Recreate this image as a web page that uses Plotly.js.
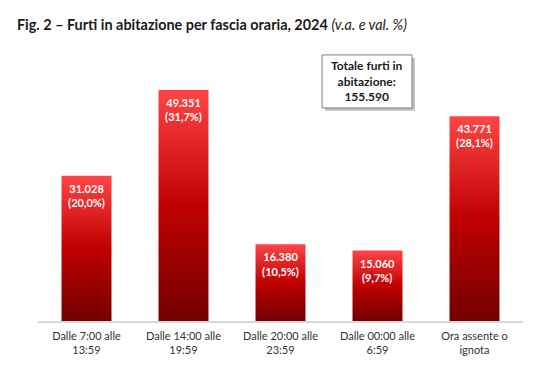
<!DOCTYPE html>
<html>
<head>
<meta charset="utf-8">
<script src="https://cdn.plot.ly/plotly-3.0.1.min.js"></script>
<style>
html,body{margin:0;padding:0;background:#fff;}
#chart{width:548px;height:384px;}
</style>
</head>
<body>
<div id="chart"></div>
<script>
const categories = ["Dalle 7:00 alle<br>13:59", "Dalle 14:00 alle<br>19:59", "Dalle 20:00 alle<br>23:59", "Dalle 00:00 alle<br>6:59", "Ora assente o<br>ignota"];
const values = [31028, 49351, 16380, 15060, 43771];
const valueLabels = ["31.028", "49.351", "16.380", "15.060", "43.771"];
const percentLabels = ["20,0%", "31,7%", "10,5%", "9,7%", "28,1%"];
const totalLabel = "155.590";

const FONT = "Lato, 'Open Sans', sans-serif";
const texts = valueLabels.map((v, i) => v + "<br>(" + percentLabels[i] + ")");

const trace = {
  type: "bar",
  x: categories,
  y: values,
  text: texts,
  textposition: "inside",
  insidetextanchor: "end",
  textangle: 0,
  textfont: {family: FONT, size: 11, color: "#ffffff", weight: "bold"},
  marker: {color: "#c00000", line: {width: 0}},
  hoverinfo: "none",
  cliponaxis: false
};

const layout = {
  width: 548,
  height: 384,
  margin: {l: 38, r: 25, t: 80, b: 63},
  paper_bgcolor: "#ffffff",
  plot_bgcolor: "#ffffff",
  bargap: 0.485,
  showlegend: false,
  uniformtext: {mode: "show", minsize: 11},
  title: {
    text: "<b>Fig. 2 – Furti in abitazione per fascia oraria, 2024</b> <i>(v.a. e val. %)</i>",
    font: {family: FONT, size: 14.4, color: "#1a1a1a"},
    x: 0.031, xanchor: "left", xref: "container",
    y: 0.935, yanchor: "middle", yref: "container"
  },
  xaxis: {
    tickfont: {family: FONT, size: 11, color: "#333333"},
    showline: true, linecolor: "#d9d9d9", linewidth: 1.5,
    ticks: "", ticklabelstandoff: 4,
    showgrid: false, zeroline: false, fixedrange: true
  },
  yaxis: {
    range: [0, 51500],
    visible: false, showgrid: false, zeroline: false, fixedrange: true
  },
  shapes: [
    {type: "rect", xref: "paper", yref: "paper", x0: 0.592, x1: 0.777, y0: 0.872, y1: 1.092,
     fillcolor: "#bfbfbf", line: {width: 0}},
    {type: "rect", xref: "paper", yref: "paper", x0: 0.5856, x1: 0.7711, y0: 0.884, y1: 1.104,
     fillcolor: "#ffffff", line: {color: "#7f7f7f", width: 1}}
  ],
  annotations: [
    {xref: "paper", yref: "paper", x: 0.678, y: 0.994, xanchor: "center", yanchor: "middle",
     showarrow: false, align: "center",
     text: "<b>Totale furti in<br>abitazione:<br>" + totalLabel + "</b>",
     font: {family: FONT, size: 12, color: "#1a1a1a"}}
  ]
};

Plotly.newPlot("chart", [trace], layout, {displayModeBar: false, staticPlot: true}).then(function(gd) {
  const svg = gd.querySelector("svg.main-svg");
  const ns = "http://www.w3.org/2000/svg";
  let defs = svg.querySelector("defs");
  if (!defs) { defs = document.createElementNS(ns, "defs"); svg.insertBefore(defs, svg.firstChild); }
  const grad = document.createElementNS(ns, "linearGradient");
  grad.setAttribute("id", "barGrad");
  grad.setAttribute("x1", "0"); grad.setAttribute("y1", "0");
  grad.setAttribute("x2", "0"); grad.setAttribute("y2", "1");
  [["0", "#ff4545"], ["0.5", "#c00000"], ["1", "#720000"]].forEach(function(s) {
    const st = document.createElementNS(ns, "stop");
    st.setAttribute("offset", s[0]);
    st.setAttribute("stop-color", s[1]);
    grad.appendChild(st);
  });
  defs.appendChild(grad);
  gd.querySelectorAll(".bars .point path").forEach(function(p) {
    p.style.fill = "url(#barGrad)";
  });
  gd.querySelectorAll(".bars .point text").forEach(function(t) {
    const tr = t.getAttribute("transform") || "";
    t.setAttribute("transform", "translate(0,3) " + tr);
  });
});
</script>
</body>
</html>
